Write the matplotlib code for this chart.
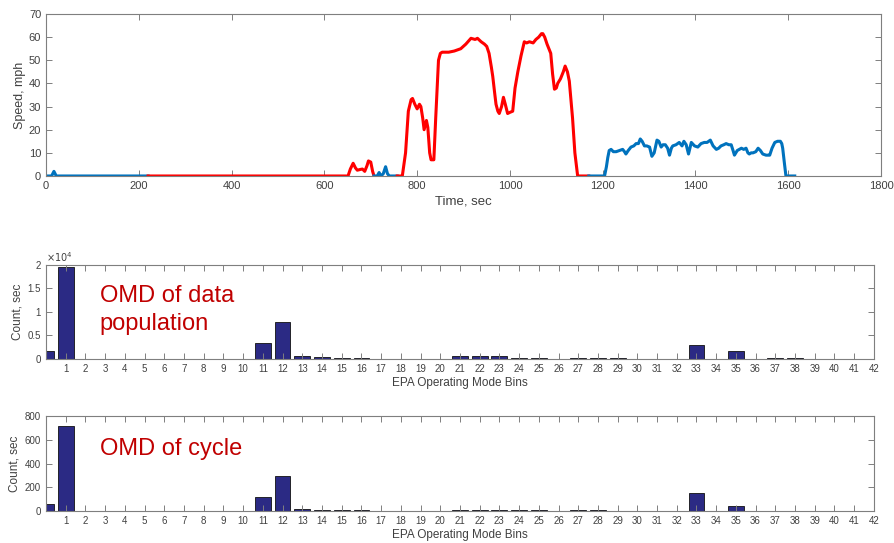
import numpy as np
import matplotlib.pyplot as plt
from matplotlib.ticker import FuncFormatter, MultipleLocator

plt.rcParams['font.family'] = ['Liberation Sans', 'DejaVu Sans']

# speed trace, split into segments (blue / red alternating)
t_blue1 = [0, 12, 17, 22, 220]
v_blue1 = [0, 0, 2, 0, 0]

t_red1 = [220, 651, 656, 662, 667, 671, 677, 682, 687, 692, 695, 700, 704, 707]
v_red1 = [0, 0, 3, 5.5, 3.5, 2.5, 2.8, 3, 2, 4.5, 6.5, 6, 2, 0]

t_blue2 = [707, 714, 718, 722, 727, 732, 736, 740, 757]
v_blue2 = [0, 0, 1.5, 0, 1, 4, 1, 0, 0]

t_red2 = [757, 768, 775, 781, 787, 790, 795, 800, 805, 808, 812, 815, 820, 823,
          827, 830, 836, 840, 846, 850, 854, 868, 880, 894, 905, 916, 925, 930,
          938, 945, 950, 955, 960, 963, 967, 970, 974, 977, 982, 986, 990, 995,
          1000, 1006, 1011, 1017, 1024, 1031, 1036, 1042, 1050, 1056, 1062, 1068,
          1071, 1075, 1080, 1088, 1092, 1096, 1100, 1103, 1109, 1115, 1119, 1124,
          1128, 1135, 1140, 1146, 1170]
v_red2 = [0, 0, 10, 28, 33, 33.5, 31, 29, 31, 30, 25, 20, 24, 21,
          10, 7, 7, 25, 50, 53, 53.5, 53.5, 54, 55, 57, 59.5, 59, 59.5,
          58, 57, 56, 53, 47, 43, 36, 31, 28, 27, 30, 34, 31, 27,
          27.5, 28, 38, 45, 52, 58, 57.5, 58, 57.5, 59, 60, 61.5,
          61.5, 60, 57, 53, 44, 37.5, 38, 40, 42, 45, 47.5, 45,
          41, 25, 10, 0, 0]

t_blue3 = [1170, 1204, 1208, 1211, 1214, 1218, 1223, 1229, 1236, 1243, 1247, 1250,
           1255, 1261, 1267, 1272, 1277, 1281, 1285, 1290, 1295, 1301, 1306, 1311,
           1317, 1321, 1326, 1330, 1335, 1340, 1344, 1348, 1351, 1358, 1365, 1371,
           1375, 1380, 1385, 1391, 1398, 1405, 1412, 1419, 1425, 1432, 1438, 1445,
           1450, 1455, 1461, 1466, 1472, 1477, 1481, 1484, 1490, 1499, 1504, 1509,
           1513, 1516, 1520, 1524, 1530, 1535, 1540, 1545, 1552, 1557, 1560, 1565,
           1571, 1577, 1583, 1586, 1588, 1592, 1595, 1614]
v_blue3 = [0, 0, 4, 8, 11, 11.5, 10.5, 10.5, 11, 11.5, 10.5, 9.5,
           11, 12.5, 13, 14, 14, 16, 15, 13, 13, 12.5, 8.5, 10,
           15.5, 15, 12.5, 13.5, 13.5, 12, 9, 12, 13, 13.5, 14.5, 13,
           15, 13.5, 9.5, 14.5, 13, 12.5, 14, 14.5, 14.5, 15.5, 13, 11.5,
           12, 13, 13.5, 14, 13.5, 13.5, 11, 9, 11, 12, 11.5, 12,
           10, 9.5, 10, 10, 10.5, 12, 11, 9.5, 9, 9, 9, 12,
           14.5, 15, 15, 14, 12, 5, 0, 0]

# operating mode distributions
bins = list(range(0, 43))
pop_bins = [0, 1, 11, 12, 13, 14, 15, 16, 21, 22, 23, 24, 25, 27, 28, 29, 33, 35, 37, 38]
pop_counts = [1750, 19600, 3300, 7900, 600, 400, 200, 200, 700, 700, 700, 300, 200,
              300, 200, 200, 3000, 1800, 200, 200]
cyc_bins = [0, 1, 11, 12, 13, 14, 15, 16, 21, 22, 23, 24, 25, 27, 28, 33, 35]
cyc_counts = [62, 715, 122, 293, 15, 10, 5, 5, 5, 8, 8, 6, 6, 5, 5, 152, 45]

blue = '#0072bd'
red = '#ff0000'
bar_col = '#2b2a84'
txt = '#404040'
spine = '#7f7f7f'

fig = plt.figure(figsize=(8.94, 5.43), dpi=100)


def style(ax, fs):
    for s in ax.spines.values():
        s.set_color(spine)
        s.set_linewidth(0.8)
    ax.tick_params(direction='in', top=True, right=True, colors=spine,
                   labelcolor=txt, labelsize=fs, length=4, width=0.7)


ax1 = fig.add_axes([0.0515, 0.6759, 0.934, 0.2983])
for t, v, c in [(t_blue1, v_blue1, blue), (t_red1, v_red1, red), (t_blue2, v_blue2, blue),
                (t_red2, v_red2, red), (t_blue3, v_blue3, blue)]:
    ax1.plot(t, v, color=c, lw=2.2)
ax1.set_xlim(0, 1800)
ax1.set_ylim(0, 70)
ax1.xaxis.set_major_locator(MultipleLocator(200))
ax1.yaxis.set_major_locator(MultipleLocator(10))
style(ax1, 8)
ax1.set_xlabel('Time, sec', fontsize=9.5, color=txt, labelpad=3)
ax1.set_ylabel('Speed, mph', fontsize=9, color=txt, labelpad=2)

ax2 = fig.add_axes([0.0515, 0.3389, 0.926, 0.1731])
ax2.bar(pop_bins, pop_counts, width=0.8, color=bar_col, edgecolor='#111111', lw=0.6)
ax2.set_xlim(0, 42)
ax2.set_ylim(0, 20000)
ax2.set_xticks(bins[1:])
ax2.set_yticks([0, 5000, 10000, 15000, 20000])
ax2.yaxis.set_major_formatter(FuncFormatter(lambda v, _: f'{v / 1e4:g}'))
style(ax2, 7)
ax2.text(0.0, 1.01, r'$\times10^4$', transform=ax2.transAxes, fontsize=7,
         color=txt, ha='left', va='bottom')
ax2.set_xlabel('EPA Operating Mode Bins', fontsize=8.5, color=txt, labelpad=2)
ax2.set_ylabel('Count, sec', fontsize=8.5, color=txt, labelpad=3)
ax2.text(0.065, 0.79, 'OMD of data\npopulation', transform=ax2.transAxes,
         fontsize=17, color='#c00000', va='top', ha='left', linespacing=1.35)

ax3 = fig.add_axes([0.0515, 0.0589, 0.926, 0.175])
ax3.bar(cyc_bins, cyc_counts, width=0.8, color=bar_col, edgecolor='#111111', lw=0.6)
ax3.set_xlim(0, 42)
ax3.set_ylim(0, 800)
ax3.set_xticks(bins[1:])
ax3.set_yticks([0, 200, 400, 600, 800])
style(ax3, 7)
ax3.set_xlabel('EPA Operating Mode Bins', fontsize=8.5, color=txt, labelpad=2)
ax3.set_ylabel('Count, sec', fontsize=8.5, color=txt, labelpad=3)
ax3.text(0.065, 0.77, 'OMD of cycle', transform=ax3.transAxes,
         fontsize=17, color='#c00000', va='top', ha='left')

fig.savefig('out.png', dpi=100)
